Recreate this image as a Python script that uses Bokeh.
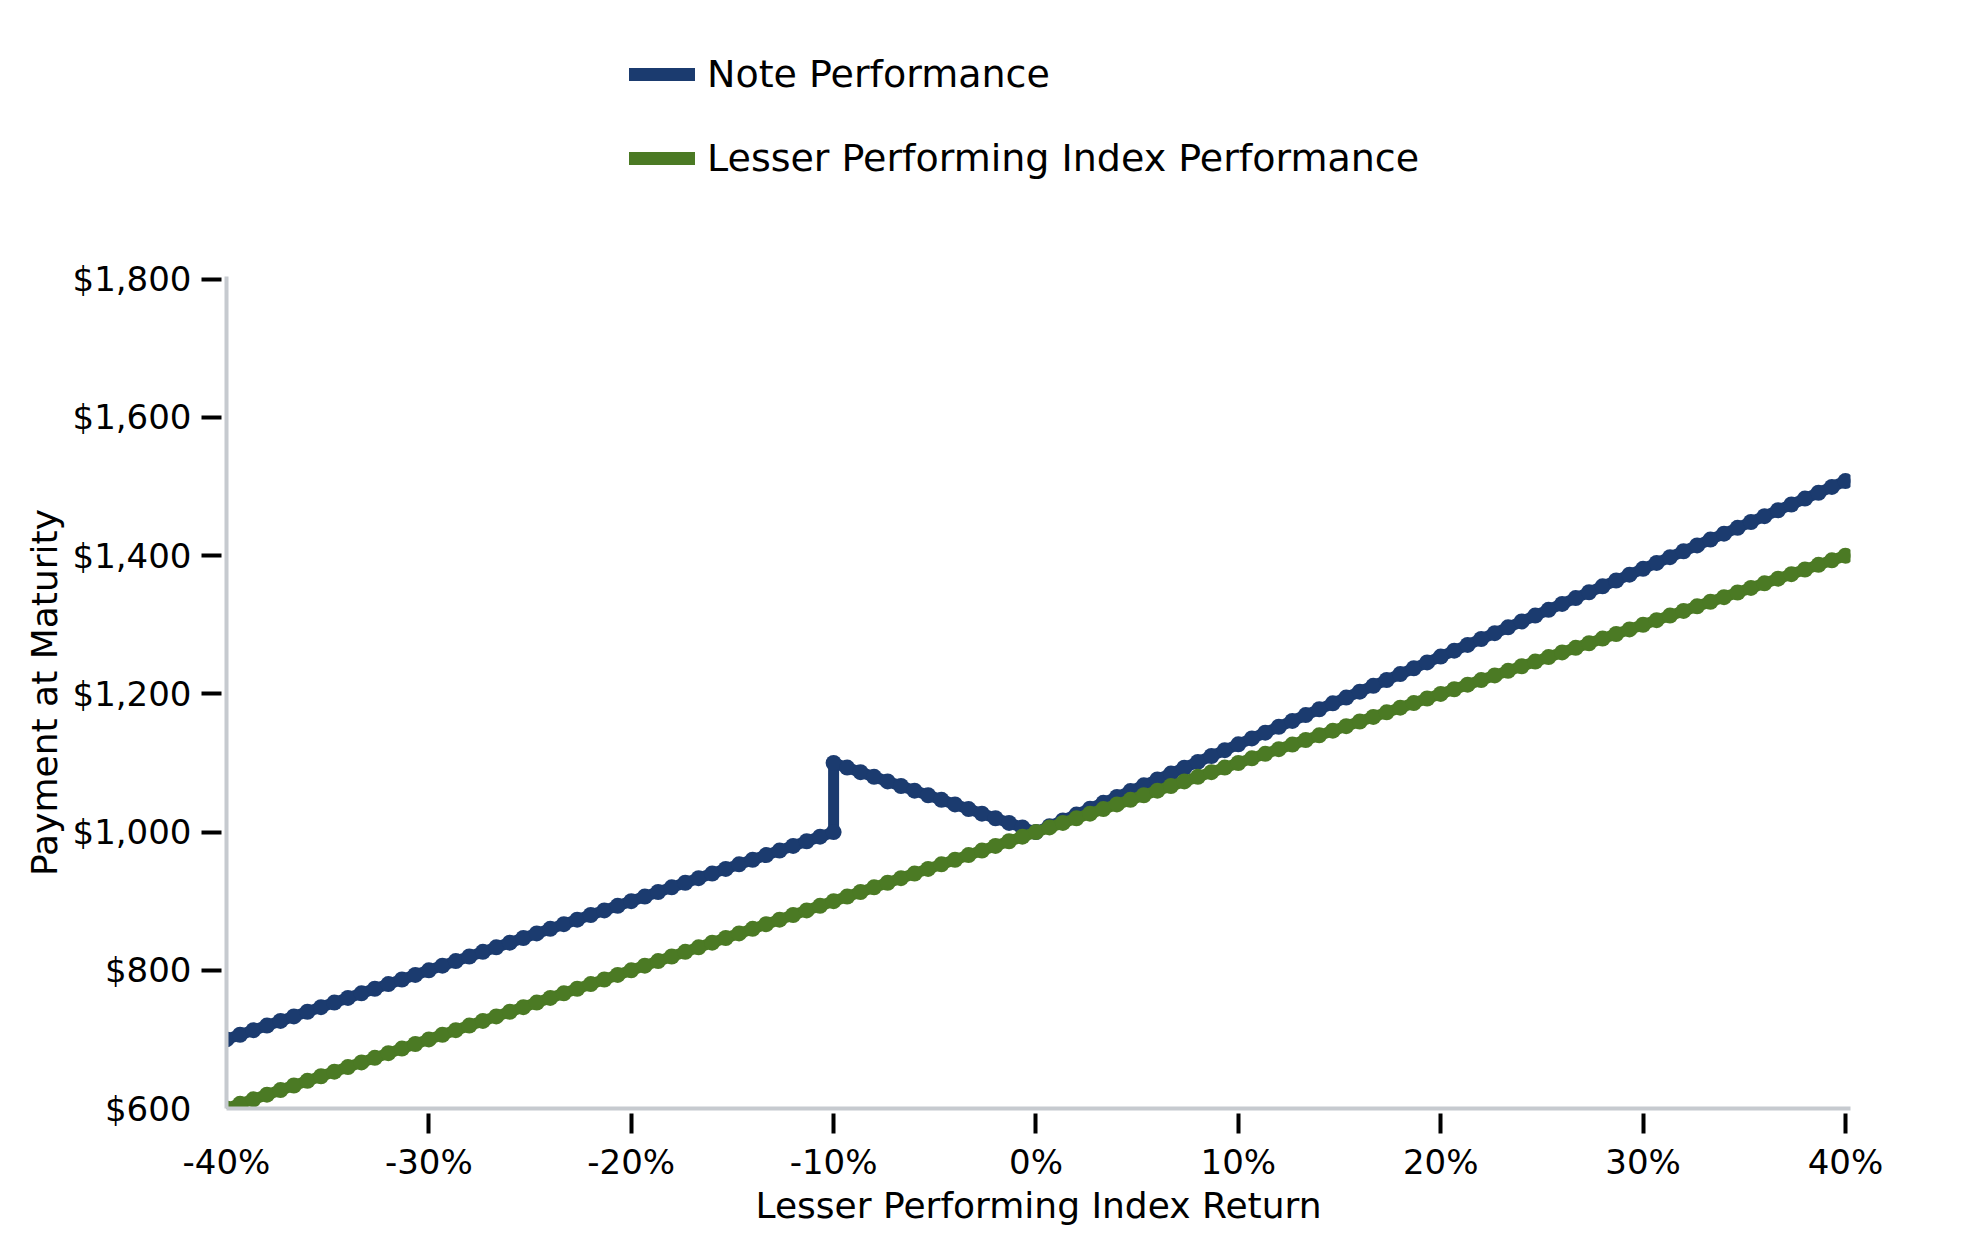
from bokeh.plotting import figure
from bokeh.layouts import column
from bokeh.models import FixedTicker, Legend, LegendItem, Range1d, NumeralTickFormatter
from bokeh.embed import file_html
from bokeh.resources import INLINE

# ---- data ----
index_return = [
    -40, -39.33, -38.67, -38, -37.33, -36.67, -36, -35.33, -34.67, -34, -33.33, -32.67, -32, -31.33, -30.67,
    -30, -29.33, -28.67, -28, -27.33, -26.67, -26, -25.33, -24.67, -24, -23.33, -22.67, -22, -21.33, -20.67,
    -20, -19.33, -18.67, -18, -17.33, -16.67, -16, -15.33, -14.67, -14, -13.33, -12.67, -12, -11.33, -10.67,
    -10, -9.33, -8.67, -8, -7.33, -6.67, -6, -5.33, -4.67, -4, -3.33, -2.67, -2, -1.33, -0.67,
    0, 0.67, 1.33, 2, 2.67, 3.33, 4, 4.67, 5.33, 6, 6.67, 7.33, 8, 8.67, 9.33,
    10, 10.67, 11.33, 12, 12.67, 13.33, 14, 14.67, 15.33, 16, 16.67, 17.33, 18, 18.67, 19.33,
    20, 20.67, 21.33, 22, 22.67, 23.33, 24, 24.67, 25.33, 26, 26.67, 27.33, 28, 28.67, 29.33,
    30, 30.67, 31.33, 32, 32.67, 33.33, 34, 34.67, 35.33, 36, 36.67, 37.33, 38, 38.67, 39.33,
    40,
]
index_payment = [
    600, 606.7, 613.3, 620, 626.7, 633.3, 640, 646.7, 653.3, 660, 666.7, 673.3, 680, 686.7, 693.3,
    700, 706.7, 713.3, 720, 726.7, 733.3, 740, 746.7, 753.3, 760, 766.7, 773.3, 780, 786.7, 793.3,
    800, 806.7, 813.3, 820, 826.7, 833.3, 840, 846.7, 853.3, 860, 866.7, 873.3, 880, 886.7, 893.3,
    900, 906.7, 913.3, 920, 926.7, 933.3, 940, 946.7, 953.3, 960, 966.7, 973.3, 980, 986.7, 993.3,
    1000, 1006.7, 1013.3, 1020, 1026.7, 1033.3, 1040, 1046.7, 1053.3, 1060, 1066.7, 1073.3, 1080, 1086.7, 1093.3,
    1100, 1106.7, 1113.3, 1120, 1126.7, 1133.3, 1140, 1146.7, 1153.3, 1160, 1166.7, 1173.3, 1180, 1186.7, 1193.3,
    1200, 1206.7, 1213.3, 1220, 1226.7, 1233.3, 1240, 1246.7, 1253.3, 1260, 1266.7, 1273.3, 1280, 1286.7, 1293.3,
    1300, 1306.7, 1313.3, 1320, 1326.7, 1333.3, 1340, 1346.7, 1353.3, 1360, 1366.7, 1373.3, 1380, 1386.7, 1393.3,
    1400,
]
note_return = [
    -40, -39.33, -38.67, -38, -37.33, -36.67, -36, -35.33, -34.67, -34, -33.33, -32.67, -32, -31.33, -30.67,
    -30, -29.33, -28.67, -28, -27.33, -26.67, -26, -25.33, -24.67, -24, -23.33, -22.67, -22, -21.33, -20.67,
    -20, -19.33, -18.67, -18, -17.33, -16.67, -16, -15.33, -14.67, -14, -13.33, -12.67, -12, -11.33, -10.67,
    -10, -10, -9.33, -8.67, -8, -7.33, -6.67, -6, -5.33, -4.67, -4, -3.33, -2.67, -2, -1.33, -0.67,
    0, 0.67, 1.33, 2, 2.67, 3.33, 4, 4.67, 5.33, 6, 6.67, 7.33, 8, 8.67, 9.33,
    10, 10.67, 11.33, 12, 12.67, 13.33, 14, 14.67, 15.33, 16, 16.67, 17.33, 18, 18.67, 19.33,
    20, 20.67, 21.33, 22, 22.67, 23.33, 24, 24.67, 25.33, 26, 26.67, 27.33, 28, 28.67, 29.33,
    30, 30.67, 31.33, 32, 32.67, 33.33, 34, 34.67, 35.33, 36, 36.67, 37.33, 38, 38.67, 39.33,
    40,
]
note_payment = [
    700, 706.7, 713.3, 720, 726.7, 733.3, 740, 746.7, 753.3, 760, 766.7, 773.3, 780, 786.7, 793.3,
    800, 806.7, 813.3, 820, 826.7, 833.3, 840, 846.7, 853.3, 860, 866.7, 873.3, 880, 886.7, 893.3,
    900, 906.7, 913.3, 920, 926.7, 933.3, 940, 946.7, 953.3, 960, 966.7, 973.3, 980, 986.7, 993.3,
    1000, 1100, 1093.3, 1086.7, 1080, 1073.3, 1066.7, 1060, 1053.3, 1046.7, 1040, 1033.3, 1026.7, 1020, 1013.3, 1006.7,
    1000, 1008.5, 1016.9, 1025.4, 1033.9, 1042.3, 1050.8, 1059.3, 1067.7, 1076.2, 1084.7, 1093.1, 1101.6, 1110.1, 1118.5,
    1127, 1135.5, 1143.9, 1152.4, 1160.9, 1169.3, 1177.8, 1186.3, 1194.7, 1203.2, 1211.7, 1220.1, 1228.6, 1237.1, 1245.5,
    1254, 1262.5, 1270.9, 1279.4, 1287.9, 1296.3, 1304.8, 1313.3, 1321.7, 1330.2, 1338.7, 1347.1, 1355.6, 1364.1, 1372.5,
    1381, 1389.5, 1397.9, 1406.4, 1414.9, 1423.3, 1431.8, 1440.3, 1448.7, 1457.2, 1465.7, 1474.1, 1482.6, 1491.1, 1499.5,
    1508,
]
x_ticks = [-40, -30, -20, -10, 0, 10, 20, 30, 40]
x_tick_labels = ["-40%", "-30%", "-20%", "-10%", "0%", "10%", "20%", "30%", "40%"]
x_tick_marks = [-30, -20, -10, 0, 10, 20, 30, 40]          # no tick mark at the origin corner
y_ticks = [600, 800, 1000, 1200, 1400, 1600, 1800]
y_tick_marks = [800, 1000, 1200, 1400, 1600, 1800]
series_names = ["Note Performance", "Lesser Performing Index Performance"]
series_colors = ["#1b3b6f", "#4b7a24"]

FONT = "DejaVu Sans"
TOTAL_W = 1960

# ---------------- legend strip (top) ----------------
# The strip carries copies of the two series, kept outside its visible ranges,
# only so that its legend can draw their glyphs.
leg = figure(
    frame_width=TOTAL_W, frame_height=200, min_border=0,
    x_range=Range1d(100, 200), y_range=Range1d(0, 1),
    output_backend="svg", toolbar_location=None,
    background_fill_color="white", border_fill_color="white",
)
leg.outline_line_color = None
leg.xaxis.visible = False
leg.yaxis.visible = False
leg.xgrid.visible = False
leg.ygrid.visible = False
proxy = [
    leg.line(note_return, note_payment, line_width=13, line_color=series_colors[0], line_cap="round"),
    leg.line(index_return, index_payment, line_width=13, line_color=series_colors[1], line_cap="round"),
]
legend = Legend(
    items=[LegendItem(label=n, renderers=[r]) for n, r in zip(series_names, proxy)],
    location=(629, 20),
    orientation="vertical",
    glyph_width=66, glyph_height=44, label_height=44, spacing=40,
    label_standoff=12, padding=0, margin=0,
    label_text_font=FONT, label_text_font_size="38px", label_text_color="black",
    border_line_color=None, background_fill_alpha=0,
)
leg.add_layout(legend, "center")

# ---------------- main chart ----------------
p = figure(
    frame_width=1624, frame_height=832,
    min_border_left=226, min_border_right=TOTAL_W - 226 - 1624, min_border_top=76, min_border_bottom=122,
    x_range=Range1d(-40, 40.25), y_range=Range1d(600, 1804),
    output_backend="svg", toolbar_location=None,
    background_fill_color="white", border_fill_color="white",
)
p.outline_line_color = None
p.xgrid.visible = False
p.ygrid.visible = False

p.line(note_return, note_payment, line_width=11, line_color=series_colors[0],
       line_join="round", line_cap="round")
p.scatter(note_return, note_payment, size=16, fill_color=series_colors[0], line_color=None)
p.line(index_return, index_payment, line_width=11, line_color=series_colors[1],
       line_join="round", line_cap="round")
p.scatter(index_return, index_payment, size=16, fill_color=series_colors[1], line_color=None)

for ax in (p.xaxis[0], p.yaxis[0]):
    ax.axis_line_color = "#c6cacf"
    ax.axis_line_width = 4
    # labels are placed from the major ticks (kept invisible); visible marks are minor ticks
    ax.major_tick_line_color = None
    ax.major_tick_in = 0
    ax.major_tick_out = 25
    ax.minor_tick_line_color = "black"
    ax.minor_tick_line_width = 4
    ax.minor_tick_in = -5
    ax.minor_tick_out = 25
    ax.major_label_text_font = FONT
    ax.major_label_text_font_size = "34px"
    ax.major_label_text_color = "black"
    ax.axis_label_text_font = FONT
    ax.axis_label_text_font_size = "36px"
    ax.axis_label_text_font_style = "normal"
    ax.axis_label_text_color = "black"

p.xaxis.ticker = FixedTicker(ticks=x_ticks, minor_ticks=x_tick_marks)
p.xaxis.major_label_overrides = dict(zip(x_ticks, x_tick_labels))
p.xaxis.major_label_standoff = 8
p.xaxis.axis_label = "Lesser Performing Index Return"
p.xaxis.axis_label_standoff = 0

p.yaxis.ticker = FixedTicker(ticks=y_ticks, minor_ticks=y_tick_marks)
p.yaxis.formatter = NumeralTickFormatter(format="$0,0")
p.yaxis.major_label_standoff = 10
p.yaxis.axis_label = "Payment at Maturity"
p.yaxis.axis_label_standoff = 5

page = column(leg, p, spacing=0)
open("out.html", "w").write(file_html(page, INLINE))
